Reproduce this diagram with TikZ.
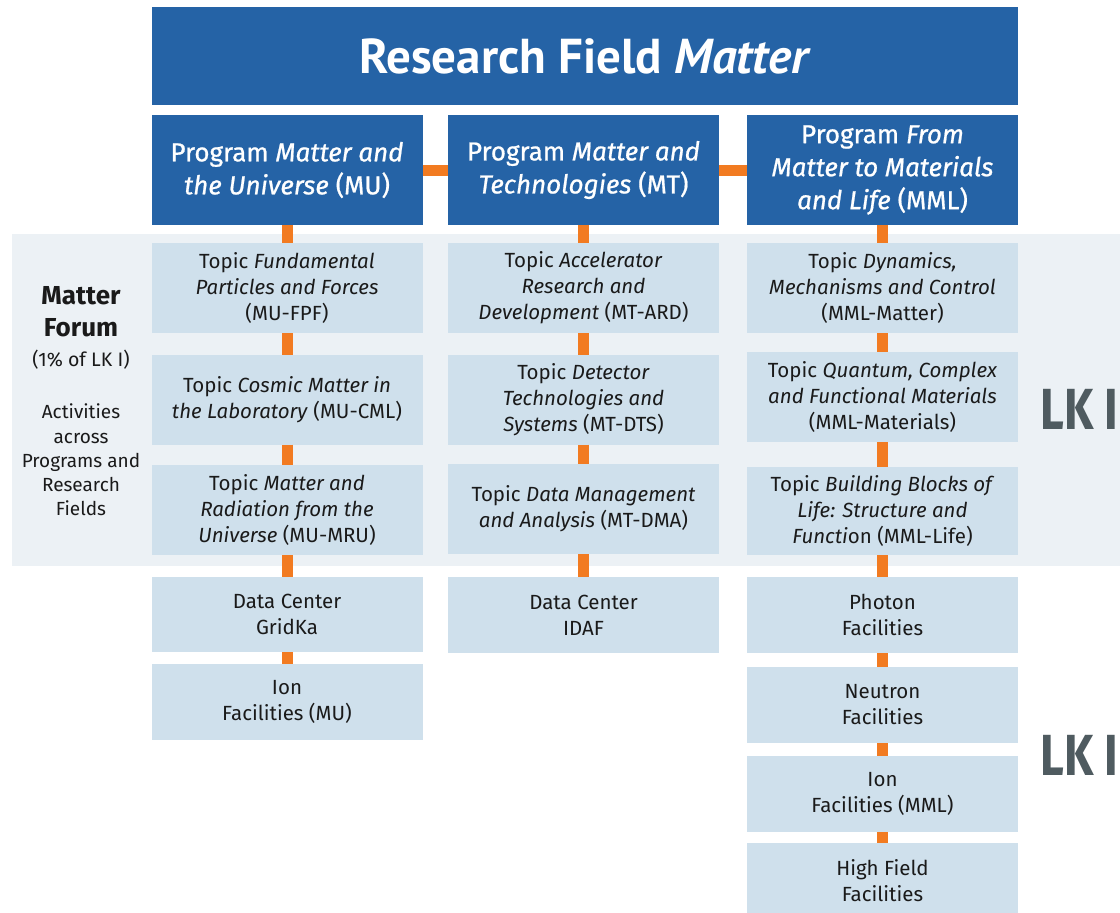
\documentclass[tikz,border=0pt]{standalone}
\usepackage{fontspec}
\setmainfont{Fira Sans}
\newfontfamily\titlefont{PT Sans}
\newfontfamily\progfont[FakeBold=0.8]{Fira Sans}
\definecolor{titleblue}{HTML}{2563A6}
\definecolor{topicblue}{HTML}{CFE0EC}
\definecolor{bandgrey}{HTML}{ECF1F5}
\definecolor{conorange}{HTML}{F27B21}
\definecolor{lkgrey}{HTML}{4F5B60}
\definecolor{txt}{HTML}{1A1A1A}
\tikzset{
 boxbase/.style={inner sep=0pt, outer sep=0pt, align=center},
 headbox/.style={boxbase, fill=titleblue, text=white, minimum width=866pt, minimum height=98pt, font=\titlefont\fontsize{49}{56}\selectfont\bfseries},
 prog/.style={boxbase, fill=titleblue, text=white, minimum width=271pt, minimum height=110pt, font=\progfont\fontsize{26}{33}\selectfont},
 topic/.style={boxbase, fill=topicblue, text=txt, minimum width=271pt, minimum height=90pt, font=\fontsize{20.5}{26}\selectfont},
 facil/.style={boxbase, fill=topicblue, text=txt, minimum width=271pt, minimum height=76pt, font=\fontsize{20.5}{26}\selectfont},
 link/.style={draw=conorange, line width=11pt},
 lk/.style={text=lkgrey, anchor=west, inner sep=0pt, font=\fontsize{58}{60}\selectfont\bfseries},
 forumtxt/.style={align=center, inner sep=0pt, text=txt},
}
\begin{document}
\begin{tikzpicture}[x=1pt,y=-1pt]
\useasboundingbox (0,0) rectangle (1120,913);
\fill[bandgrey] (12,234) rectangle (1120,566);
% title
\node[headbox] (title) at (585,56) {Research Field \textit{Matter}};
% programs
\node[prog] (mu) at (287,170) {Program \textit{Matter and}\\\textit{the Universe} (MU)};
\node[prog] (mt) at (583.5,170) {Program \textit{Matter and}\\\textit{Technologies} (MT)};
\node[prog] (mml) at (882.5,170) {Program \textit{From}\\\textit{Matter to Materials}\\\textit{and Life} (MML)};
% topics MU
\node[topic] (mu1) at (287,288) {Topic \textit{Fundamental}\\\textit{Particles and Forces}\\(MU-FPF)};
\node[topic] (mu2) at (287,399.5) {Topic \textit{Cosmic Matter in}\\\textit{the Laboratory} (MU-CML)};
\node[topic] (mu3) at (287,510) {Topic \textit{Matter and}\\\textit{Radiation from the}\\\textit{Universe} (MU-MRU)};
% topics MT
\node[topic] (mt1) at (583.5,288) {Topic \textit{Accelerator}\\\textit{Research and}\\\textit{Development} (MT-ARD)};
\node[topic] (mt2) at (583.5,399.5) {Topic \textit{Detector}\\\textit{Technologies and}\\\textit{Systems} (MT-DTS)};
\node[topic] (mt3) at (583.5,509) {Topic \textit{Data Management}\\\textit{and Analysis} (MT-DMA)};
% topics MML
\node[topic] (mml1) at (882.5,288) {Topic \textit{Dynamics,}\\\textit{Mechanisms and Control}\\(MML-Matter)};
\node[topic] (mml2) at (882.5,397) {Topic \textit{Quantum, Complex}\\\textit{and Functional Materials}\\(MML-Materials)};
\node[topic, minimum height=88pt] (mml3) at (882.5,511) {Topic \textit{Building Blocks of}\\\textit{Life: Structure and}\\\textit{Functi}on (MML-Life)};
% facilities
\node[facil, minimum height=75pt] (gridka) at (287,614.5) {Data Center\\GridKa};
\node[facil] (ionmu) at (287,702) {Ion\\Facilities (MU)};
\node[facil] (idaf) at (583.5,615) {Data Center\\IDAF};
\node[facil] (photon) at (882.5,615) {Photon\\Facilities};
\node[facil] (neutron) at (882.5,705) {Neutron\\Facilities};
\node[facil] (ionmml) at (882.5,794) {Ion\\Facilities (MML)};
\node[facil] (highfield) at (882.5,881) {High Field\\Facilities};
% connectors
\draw[link] (mu.east) -- (mt.west);
\draw[link] (mt.east) -- (mml.west);
\draw[link] (mu.south) -- (mu1.north);
\draw[link] (mu1.south) -- (mu2.north);
\draw[link] (mu2.south) -- (mu3.north);
\draw[link] (mu3.south) -- (gridka.north);
\draw[link] (gridka.south) -- (ionmu.north);
\draw[link] (mt.south) -- (mt1.north);
\draw[link] (mt1.south) -- (mt2.north);
\draw[link] (mt2.south) -- (mt3.north);
\draw[link] (mt3.south) -- (idaf.north);
\draw[link] (mml.south) -- (mml1.north);
\draw[link] (mml1.south) -- (mml2.north);
\draw[link] (mml2.south) -- (mml3.north);
\draw[link] (mml3.south) -- (photon.north);
\draw[link] (photon.south) -- (neutron.north);
\draw[link] (neutron.south) -- (ionmml.north);
\draw[link] (ionmml.south) -- (highfield.north);
% forum
\node[forumtxt, font=\fontsize{26}{32}\selectfont\bfseries] (forumhead) at (81,312) {Matter\\Forum};
\node[forumtxt, font=\fontsize{19.5}{24}\selectfont] (forumshare) at (81,360) {(1\% of LK I)};
\node[forumtxt, font=\fontsize{19}{24.3}\selectfont] (forumact) at (81,460) {Activities\\across\\Programs and\\Research\\Fields};
% LK labels
\node[lk] (lk1) at (1040,409) {\scalebox{0.8}[1]{LK I}};
\node[lk] (lk2) at (1040,755) {\scalebox{0.8}[1]{LK II}};
\end{tikzpicture}
\end{document}
